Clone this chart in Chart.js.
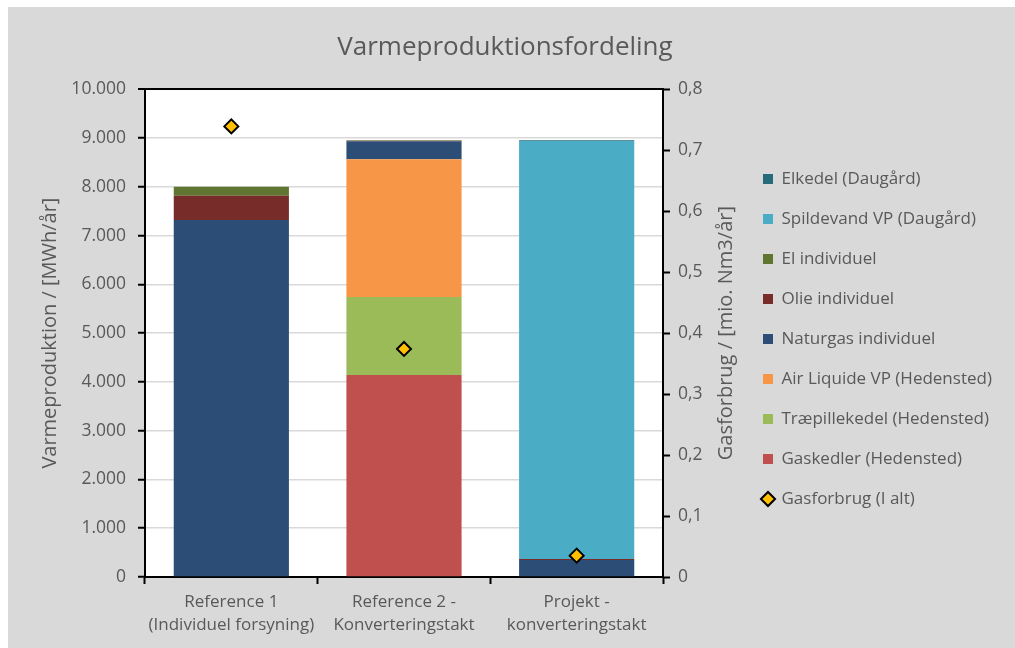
<!DOCTYPE html>
<html>
<head>
<meta charset="utf-8">
<title>Varmeproduktionsfordeling</title>
<script src="https://cdn.jsdelivr.net/npm/chart.js@4.4.1/dist/chart.umd.min.js"></script>
<style>
  html, body { margin: 0; padding: 0; background: #fff; }
  #wrap { width: 1015px; height: 648px; }
</style>
</head>
<body>
<div id="wrap"><canvas id="chart" width="1015" height="648"></canvas></div>
<script>
// categories (two-line labels)
const categories = [
  ['Reference 1', '(Individuel forsyning)'],
  ['Reference 2 -', 'Konverteringstakt'],
  ['Projekt -', 'konverteringstakt']
];

// heat production, MWh/year (stacked bottom -> top)
const gaskedler  = [0, 4140, 0];
const traepille  = [0, 1600, 0];
const airLiquide = [0, 2825, 0];
const naturgas   = [7320, 370, 350];
const olie       = [495, 10, 20];
const elIndiv    = [185, 10, 0];
const spildevand = [0, 0, 8570];
const elkedel    = [0, 0, 15];

// gas consumption, mio. Nm3/year (right axis)
const gasforbrug = [0.739, 0.374, 0.035];

// tick labels
const leftTicks  = ['0', '1.000', '2.000', '3.000', '4.000', '5.000', '6.000', '7.000', '8.000', '9.000', '10.000'];
const rightTicks = ['0', '0,1', '0,2', '0,3', '0,4', '0,5', '0,6', '0,7', '0,8'];

const FONT = "'Open Sans', sans-serif";
const TEXT = '#595959';
const LEGEND_SIZE = 17;
const LEGEND_PAD = 40 - LEGEND_SIZE;

// measure widest legend text so the legend lands where it should
const mctx = document.createElement('canvas').getContext('2d');
mctx.font = 'normal ' + LEGEND_SIZE + 'px ' + FONT;
const legendNames = ['Elkedel (Daugård)', 'Spildevand VP (Daugård)', 'El individuel', 'Olie individuel',
  'Naturgas individuel', 'Air Liquide VP (Hedensted)', 'Træpillekedel (Hedensted)',
  'Gaskedler (Hedensted)', 'Gasforbrug (I alt)'];
let textMax = 0;
legendNames.forEach(n => { textMax = Math.max(textMax, mctx.measureText(n).width); });
const legendLeft = 763 - LEGEND_PAD;
const legendWidth = LEGEND_PAD + 10 + LEGEND_SIZE / 2 + textMax + 10;
const padRight = Math.max(0, 1015 - legendLeft - legendWidth);

const bg = {
  id: 'bg',
  beforeDraw(chart) {
    const { ctx, chartArea: a } = chart;
    ctx.save();
    ctx.fillStyle = '#fff';
    ctx.fillRect(0, 0, chart.width, chart.height);
    ctx.fillStyle = '#d9d9d9';
    ctx.fillRect(8, 7, chart.width - 8, chart.height - 7);
    ctx.fillStyle = '#fff';
    ctx.fillRect(a.left, a.top, a.right - a.left, a.bottom - a.top);
    ctx.restore();
  }
};

// both axis titles read bottom-to-top, as in the original
const axisTitles = {
  id: 'axisTitles',
  afterDraw(chart) {
    const { ctx, chartArea: a } = chart;
    const mid = (a.top + a.bottom) / 2;
    ctx.save();
    ctx.fillStyle = TEXT;
    ctx.font = 'normal 20px ' + FONT;
    ctx.textAlign = 'center';
    ctx.textBaseline = 'middle';
    [[50, 'Varmeproduktion / [MWh/år]'], [726, 'Gasforbrug / [mio. Nm3/år]']].forEach(([x, t]) => {
      ctx.save();
      ctx.translate(x, mid);
      ctx.rotate(-Math.PI / 2);
      ctx.fillText(t, 0, 0);
      ctx.restore();
    });
    ctx.restore();
  }
};

function bar(label, data, color) {
  return {
    label: label,
    data: data,
    backgroundColor: color,
    borderWidth: 0,
    barPercentage: 0.667,
    categoryPercentage: 1,
    stack: 'varme',
    yAxisID: 'y'
  };
}

new Chart(document.getElementById('chart'), {
  type: 'bar',
  data: {
    labels: categories,
    datasets: [
      bar('Gaskedler (Hedensted)', gaskedler, '#c0504d'),
      bar('Træpillekedel (Hedensted)', traepille, '#9bbb59'),
      bar('Air Liquide VP (Hedensted)', airLiquide, '#f79646'),
      bar('Naturgas individuel', naturgas, '#2c4d75'),
      bar('Olie individuel', olie, '#772c2a'),
      bar('El individuel', elIndiv, '#5f7530'),
      bar('Spildevand VP (Daugård)', spildevand, '#4bacc6'),
      bar('Elkedel (Daugård)', elkedel, '#276a7c'),
      {
        type: 'line',
        label: 'Gasforbrug (I alt)',
        data: gasforbrug,
        yAxisID: 'y1',
        showLine: false,
        order: -1,
        pointStyle: 'rectRot',
        pointRadius: 7,
        pointHoverRadius: 7,
        pointBackgroundColor: '#ffc000',
        pointBorderColor: '#000',
        pointBorderWidth: 2,
        backgroundColor: '#ffc000',
        borderColor: '#000',
        borderWidth: 2
      }
    ]
  },
  options: {
    responsive: false,
    animation: false,
    layout: { padding: { left: 8, top: 0, right: padRight, bottom: 0 } },
    plugins: {
      title: {
        display: true,
        text: 'Varmeproduktionsfordeling',
        color: TEXT,
        font: { family: FONT, size: 26, weight: 'normal' },
        padding: { top: 32, bottom: 26 }
      },
      legend: {
        position: 'right',
        maxWidth: 400,
        // empty title only nudges the items down a little
        title: { display: true, text: ' ', padding: 0, font: { size: 30, lineHeight: 1 } },
        labels: {
          color: TEXT,
          font: { family: FONT, size: LEGEND_SIZE },
          boxWidth: 10,
          boxHeight: 10,
          padding: LEGEND_PAD,
          usePointStyle: true,
          generateLabels(chart) {
            const items = Chart.defaults.plugins.legend.labels.generateLabels(chart);
            items.forEach(it => {
              const ds = chart.data.datasets[it.datasetIndex];
              it.pointStyle = ds.type === 'line' ? 'rectRot' : 'rect';
            });
            return items;
          },
          sort(a, b) {
            const rank = it => it.datasetIndex === 8 ? 100 : -it.datasetIndex;
            return rank(a) - rank(b);
          }
        }
      },
      tooltip: { enabled: false }
    },
    scales: {
      x: {
        stacked: true,
        afterFit(s) { s.height = 71; },
        grid: {
          offset: true,
          drawOnChartArea: false,
          drawTicks: true,
          tickLength: 7,
          tickColor: '#000',
          tickWidth: 2
        },
        border: { display: true, color: '#000', width: 2 },
        ticks: {
          color: TEXT,
          padding: 6,
          font: { family: FONT, size: 17, lineHeight: 1.38 },
          maxRotation: 0
        }
      },
      y: {
        stacked: true,
        position: 'left',
        min: 0,
        max: 10000,
        afterFit(s) { s.width = 137; },
        grid: {
          color: c => c.tick && c.tick.value === 10000 ? '#000' : '#d9d9d9',
          lineWidth: c => c.tick && c.tick.value === 10000 ? 2 : 1.5,
          tickLength: 7,
          tickColor: '#000',
          tickWidth: 2
        },
        border: { display: true, color: '#000', width: 2 },
        ticks: {
          stepSize: 1000,
          color: TEXT,
          padding: 12,
          font: { family: FONT, size: 17.5 },
          callback: (v, i) => leftTicks[i]
        }
      },
      y1: {
        position: 'right',
        min: 0,
        max: 0.8,
        afterFit(s) { s.width = legendLeft - 663; },
        grid: {
          drawOnChartArea: false,
          tickLength: 7,
          tickColor: '#000',
          tickWidth: 2
        },
        border: { display: true, color: '#000', width: 2 },
        ticks: {
          stepSize: 0.1,
          color: TEXT,
          padding: 8,
          font: { family: FONT, size: 17.5 },
          callback: (v, i) => rightTicks[i]
        }
      }
    }
  },
  plugins: [bg, axisTitles]
});
</script>
</body>
</html>
